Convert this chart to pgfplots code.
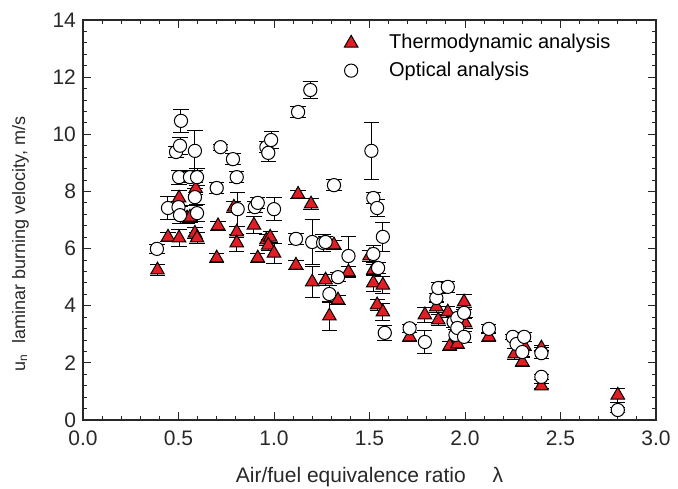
\documentclass[border=0pt]{standalone}
\usepackage{fontspec}
\setmainfont{Liberation Sans}
\usepackage{pgfplots}
\usepackage{pgfplotstable}
\pgfplotsset{compat=1.18}
\usetikzlibrary{calc}
\definecolor{tred}{RGB}{226,30,36}
\definecolor{axgray}{RGB}{40,40,40}

\pgfplotstableread{
x y e
0.39 5.25 0.2
0.445 6.4 0.15
0.503 7.77 0.25
0.503 6.37 0.3
0.545 7.07 0.2
0.56 7.1 0.2
0.586 6.54 0.2
0.597 6.37 0.2
0.59 8.1 0.2
0.707 6.8 0.15
0.70 5.67 0.15
0.79 7.45 0.2
0.805 6.58 0.2
0.805 6.2 0.3
0.895 6.82 0.3
0.915 5.67 0.15
0.96 6.3 0.2
0.98 6.4 0.2
0.97 6.12 0.2
1.0 5.84 0.35
1.115 5.42 0.15
1.126 7.9 0.15
1.194 7.56 0.2
1.2 4.83 0.55
1.27 4.9 0.2
1.29 3.64 0.5
1.314 6.13 0.15
1.335 4.2 0.15
1.39 5.18 0.2
1.5 5.74 0.2
1.52 4.8 0.3
1.52 5.25 0.2
1.54 4.03 0.2
1.57 4.72 0.3
1.57 3.78 0.3
1.71 2.91 0.15
1.79 3.68 0.25
1.85 3.96 0.2
1.86 3.5 0.2
1.91 3.78 0.2
1.92 2.59 0.15
1.96 2.66 0.15
1.995 4.13 0.25
2.0 3.4 0.2
2.125 2.91 0.15
2.26 2.31 0.2
2.30 2.03 0.15
2.31 2.59 0.15
2.40 1.19 0.1
2.40 2.52 0.1
2.80 0.87 0.25
}\thermo

\pgfplotstableread{
x y e
0.387 5.99 0.15
0.445 7.42 0.4
0.487 9.38 0.2
0.50 7.45 0.2
0.503 8.5 0.25
0.508 9.6 0.3
0.508 7.17 0.3
0.513 10.47 0.4
0.56 8.5 0.2
0.586 9.42 0.7
0.586 7.8 0.3
0.597 8.5 0.3
0.597 7.24 0.3
0.70 8.12 0.2
0.72 9.55 0.1
0.785 9.13 0.2
0.805 8.5 0.2
0.81 7.38 0.6
0.90 7.45 0.2
0.915 7.6 0.2
0.96 9.55 0.2
0.97 9.35 0.3
0.985 9.8 0.3
1.0 7.38 0.4
1.115 6.34 0.2
1.126 10.78 0.2
1.19 11.55 0.3
1.2 6.23 0.8
1.257 6.2 0.3
1.27 6.23 0.2
1.29 4.41 0.3
1.314 8.22 0.2
1.335 5.0 0.15
1.39 5.74 0.7
1.51 9.42 1.0
1.52 7.77 0.2
1.54 7.42 0.3
1.52 5.81 0.3
1.545 5.32 0.2
1.57 6.41 0.5
1.58 3.05 0.25
1.71 3.21 0.15
1.79 2.73 0.4
1.85 4.27 0.15
1.86 4.62 0.2
1.91 4.66 0.2
1.94 3.43 0.2
1.95 2.98 0.2
1.96 3.57 0.2
1.96 3.22 0.2
1.995 3.75 0.2
1.995 2.91 0.2
2.125 3.19 0.15
2.25 2.91 0.1
2.27 2.66 0.15
2.30 2.38 0.15
2.31 2.91 0.15
2.40 2.34 0.2
2.40 1.51 0.1
2.80 0.35 0.1
}\optical

\begin{document}
\begin{tikzpicture}
\begin{axis}[
  width=286.5pt, height=200pt, scale only axis,
  xmin=0, xmax=3, ymin=0, ymax=14,
  xtick={0,0.5,...,3}, ytick={0,2,...,14},
  minor tick num=4,
  tick align=inside, ticks=both,
  xtick pos=both, ytick pos=both,
  major tick length=4pt, minor tick length=2pt,
  tick style={axgray, line width=0.5pt},
  axis line style={axgray, line width=0.6pt},
  xticklabel style={/pgf/number format/fixed, /pgf/number format/fixed zerofill, /pgf/number format/precision=1},
  /pgf/number format/assume math mode=true,
  every tick label/.append style={font=\fontsize{10.5}{12}\selectfont, text=axgray},
  xticklabel shift=2pt,
  xlabel={Air/fuel equivalence ratio\quad\ λ},
  ylabel={u\textsubscript{n}\ \ laminar burning velocity, m/s},
  xlabel style={font=\fontsize{10.5}{12}\selectfont, text=axgray, yshift=-4pt},
  ylabel style={font=\fontsize{9}{11}\selectfont, text=axgray, yshift=5pt, xshift=-12pt},
  legend style={draw=none, fill=none, at={(0.445,0.985)}, anchor=north west,
    font=\fontsize{10}{12}\selectfont, row sep=1pt, nodes={inner xsep=8pt}},
  legend cell align=left,
  legend image code/.code={\draw[#1] plot coordinates {(0.1cm,0cm)}; \path (0.48cm,0cm);},
  error bars/y dir=both, error bars/y explicit,
  error bars/error bar style={black, line width=0.5pt},
  error bars/error mark options={rotate=90, black, mark size=3.8pt, line width=0.5pt},
]
\addplot[only marks, mark=triangle*, mark size=3.9pt,
  mark options={fill=tred, draw=black, line width=0.5pt}]
  table[x=x, y=y, y error=e] {\thermo};
\addlegendentry{Thermodynamic analysis}
\addplot[only marks, mark=*, mark size=3.3pt,
  mark options={fill=white, draw=black, line width=0.5pt}]
  table[x=x, y=y, y error=e] {\optical};
\addlegendentry{Optical analysis}
\end{axis}
\pgfresetboundingbox
\path ($(current axis.south west)+(-41.5pt,-34pt)$) rectangle ($(current axis.north east)+(11pt,10pt)$);
\end{tikzpicture}
\end{document}
